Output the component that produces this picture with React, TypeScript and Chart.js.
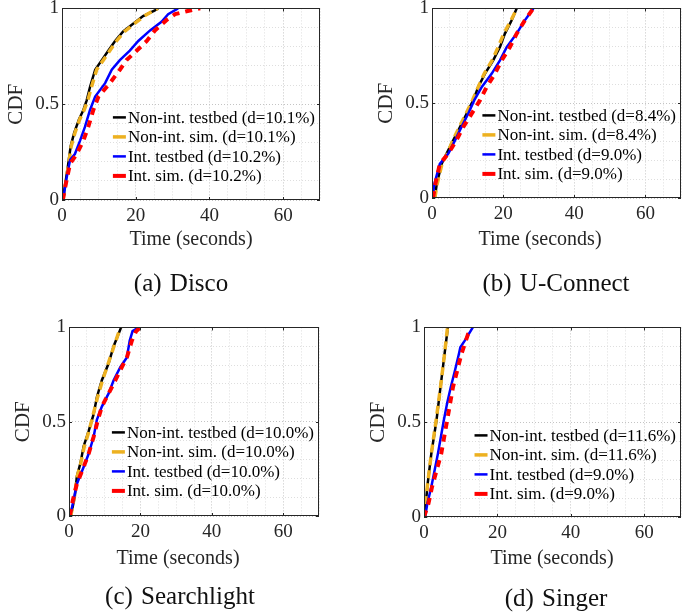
import React, { useEffect, useRef } from "react";
import { Chart, registerables } from "chart.js";

Chart.register(...registerables);

type Pt = [number, number];

// ---------- data ----------
const seriesNames = ["Non-int. testbed", "Non-int. sim.", "Int. testbed", "Int. sim."];
const seriesColors = ["#000000", "#EDB120", "#0000FF", "#FF0000"];
const xTickLabels = [0, 20, 40, 60];
const yTickLabels = [0, 0.5, 1];
const xAxisTitle = "Time (seconds)";
const yAxisTitle = "CDF";
const panelCaptions = ["(a) Disco", "(b) U-Connect", "(c) Searchlight", "(d) Singer"];

const discoDistances = ["10.1%", "10.1%", "10.2%", "10.2%"];
const uconnectDistances = ["8.4%", "8.4%", "9.0%", "9.0%"];
const searchlightDistances = ["10.0%", "10.0%", "10.0%", "10.0%"];
const singerDistances = ["11.6%", "11.6%", "9.0%", "9.0%"];

const discoNonIntTestbed: Pt[] = [[0.2, 0], [1.0, 0.1], [1.7, 0.19], [2.35, 0.28], [3.3, 0.35], [4.6, 0.42], [5.8, 0.47], [6.7, 0.52], [7.6, 0.59], [9.0, 0.68], [10.8, 0.73], [12.6, 0.78], [14.4, 0.83], [16.6, 0.88], [19.3, 0.92], [22.0, 0.96], [25.2, 0.99], [26.1, 1.0]];
const discoNonIntSim: Pt[] = [[0.3, 0], [1.1, 0.1], [1.8, 0.19], [2.5, 0.28], [3.5, 0.35], [4.8, 0.42], [6.0, 0.47], [7.0, 0.52], [8.0, 0.59], [9.4, 0.68], [11.2, 0.73], [13.0, 0.78], [14.8, 0.83], [17.0, 0.88], [19.6, 0.92], [22.3, 0.96], [25.0, 0.99], [26.0, 1.0]];
const discoIntTestbed: Pt[] = [[0.3, 0], [1.1, 0.1], [2.2, 0.21], [3.5, 0.24], [4.9, 0.31], [6.2, 0.38], [7.6, 0.47], [9.0, 0.54], [11.7, 0.61], [13.5, 0.68], [15.7, 0.73], [18.4, 0.78], [20.7, 0.83], [23.9, 0.885], [27.0, 0.93], [28.8, 0.97], [31.5, 1.0]];
const discoIntSim: Pt[] = [[0.2, 0], [1.2, 0.1], [2.2, 0.19], [4.0, 0.24], [5.8, 0.31], [7.1, 0.38], [8.5, 0.47], [9.9, 0.54], [13.0, 0.61], [15.7, 0.68], [17.5, 0.73], [20.3, 0.78], [23.0, 0.83], [25.2, 0.885], [28.4, 0.94], [30.7, 0.97], [33.8, 0.985], [37.5, 1.0]];

const uconnectNonIntTestbed: Pt[] = [[0.8, 0], [1.3, 0.07], [2.7, 0.18], [4.1, 0.235], [6.0, 0.305], [7.9, 0.375], [9.75, 0.446], [11.6, 0.516], [13.0, 0.586], [14.9, 0.656], [17.2, 0.726], [19.1, 0.796], [20.5, 0.867], [22.4, 0.937], [23.8, 1.0]];
const uconnectNonIntSim: Pt[] = [[0.8, 0], [1.4, 0.07], [2.8, 0.18], [4.3, 0.235], [5.9, 0.305], [7.7, 0.375], [9.6, 0.446], [11.4, 0.516], [13.0, 0.586], [14.7, 0.656], [16.9, 0.726], [18.6, 0.796], [20.2, 0.867], [22.2, 0.937], [23.9, 1.0]];
const uconnectIntTestbed: Pt[] = [[0.2, 0], [0.6, 0.07], [2.2, 0.18], [4.6, 0.235], [6.5, 0.305], [8.3, 0.375], [10.2, 0.446], [11.9, 0.516], [14.0, 0.586], [16.8, 0.656], [19.1, 0.726], [21.0, 0.796], [23.8, 0.867], [25.2, 0.91], [26.1, 0.937], [28.5, 1.0]];
const uconnectIntSim: Pt[] = [[0.3, 0], [0.9, 0.07], [2.2, 0.18], [4.6, 0.235], [6.9, 0.305], [8.8, 0.375], [11.2, 0.446], [13.5, 0.516], [15.4, 0.586], [17.7, 0.656], [19.6, 0.726], [21.9, 0.796], [23.8, 0.867], [26.1, 0.937], [28.5, 1.0]];

const searchlightNonIntTestbed: Pt[] = [[0.5, 0], [1.6, 0.1], [2.2, 0.21], [3.2, 0.28], [4.1, 0.37], [5.5, 0.45], [6.9, 0.54], [7.8, 0.63], [9.2, 0.72], [11.1, 0.81], [12.5, 0.9], [14.6, 1.0]];
const searchlightNonIntSim: Pt[] = [[0.5, 0], [1.5, 0.1], [2.3, 0.21], [3.3, 0.28], [4.3, 0.37], [5.6, 0.45], [6.8, 0.54], [8.0, 0.63], [9.4, 0.72], [11.0, 0.81], [12.6, 0.9], [14.4, 1.0]];
const searchlightIntTestbed: Pt[] = [[0.3, 0], [1.3, 0.085], [2.2, 0.17], [4.1, 0.26], [5.5, 0.33], [6.9, 0.42], [7.8, 0.51], [9.2, 0.58], [11.1, 0.65], [12.5, 0.72], [14.4, 0.79], [16.2, 0.84], [17.0, 0.93], [17.8, 0.98], [19.5, 1.0]];
const searchlightIntSim: Pt[] = [[0.2, 0], [1.1, 0.085], [2.2, 0.17], [4.1, 0.26], [5.5, 0.33], [6.9, 0.42], [8.1, 0.51], [9.2, 0.58], [11.1, 0.65], [13.0, 0.72], [14.8, 0.79], [16.2, 0.84], [17.6, 0.93], [18.8, 0.98], [20.0, 1.0]];

const singerNonIntTestbed: Pt[] = [[0.2, 0], [0.9, 0.16], [2.0, 0.335], [3.4, 0.51], [4.5, 0.686], [5.6, 0.86], [6.5, 1.0]];
const singerNonIntSim: Pt[] = [[0.1, 0], [0.9, 0.16], [2.0, 0.335], [3.3, 0.51], [4.5, 0.686], [5.6, 0.86], [6.4, 1.0]];
const singerIntTestbed: Pt[] = [[0.3, 0], [0.9, 0.07], [2.0, 0.16], [3.8, 0.335], [5.4, 0.51], [6.3, 0.6], [7.3, 0.686], [8.4, 0.77], [9.5, 0.86], [9.9, 0.895], [11.1, 0.93], [13.3, 1.0]];
const singerIntSim: Pt[] = [[0.0, 0], [1.2, 0.07], [2.2, 0.16], [4.7, 0.335], [6.3, 0.51], [7.9, 0.686], [10.2, 0.86], [12.0, 0.965], [12.9, 0.98]];

// ---------- layout / style (kept separate from data) ----------
const FONT = '"Liberation Serif", "Times New Roman", Times, serif';
const TEXT_COLOR = "#262626";
const Y_AXIS_W = 62;
const X_AXIS_H = 34;
const PAD_TOP = 14;
const PAD_RIGHT = 8;

const seriesStyles = [
  { width: 2.5, dash: [] as number[] },
  { width: 3.5, dash: [8, 5] },
  { width: 2.5, dash: [] as number[] },
  { width: 4, dash: [7, 6] },
];

const panels = [
  { series: [discoNonIntTestbed, discoNonIntSim, discoIntTestbed, discoIntSim], dist: discoDistances, caption: panelCaptions[0],
    areaLeft: 62, areaTop: 8, areaW: 258, areaH: 192, legendTop: 109, xTitle: [191, 238], cap: [181, 282] },
  { series: [uconnectNonIntTestbed, uconnectNonIntSim, uconnectIntTestbed, uconnectIntSim], dist: uconnectDistances, caption: panelCaptions[1],
    areaLeft: 432, areaTop: 8, areaW: 249, areaH: 190, legendTop: 107, xTitle: [540, 238], cap: [556, 282] },
  { series: [searchlightNonIntTestbed, searchlightNonIntSim, searchlightIntTestbed, searchlightIntSim], dist: searchlightDistances, caption: panelCaptions[2],
    areaLeft: 69, areaTop: 327, areaW: 250, areaH: 189, legendTop: 105, xTitle: [178, 557], cap: [180, 595] },
  { series: [singerNonIntTestbed, singerNonIntSim, singerIntTestbed, singerIntSim], dist: singerDistances, caption: panelCaptions[3],
    areaLeft: 424, areaTop: 327, areaW: 257, areaH: 190, legendTop: 108, xTitle: [552, 557], cap: [556, 597] },
];

const near = (a: number, b: number) => Math.abs(a - b) < 1e-6;

const frameAndLegendPlugin = {
  id: "frameAndLegend",
  afterDraw(chart: any, _args: any, opts: any) {
    const { ctx, chartArea } = chart;
    const { left, right, top, bottom } = chartArea;
    const xs = chart.scales.x;
    const ys = chart.scales.y;
    ctx.save();
    // box
    ctx.strokeStyle = TEXT_COLOR;
    ctx.lineWidth = 1;
    ctx.setLineDash([]);
    ctx.strokeRect(Math.round(left) + 0.5, Math.round(top) + 0.5, Math.round(right - left) - 1, Math.round(bottom - top) - 1);
    // inward major ticks
    ctx.beginPath();
    for (const v of xTickLabels) {
      const px = Math.round(xs.getPixelForValue(v)) + 0.5;
      ctx.moveTo(px, bottom);
      ctx.lineTo(px, bottom - 3);
      ctx.moveTo(px, top);
      ctx.lineTo(px, top + 3);
    }
    for (const v of yTickLabels) {
      const py = Math.round(ys.getPixelForValue(v)) + 0.5;
      ctx.moveTo(left, py);
      ctx.lineTo(left + 3, py);
      ctx.moveTo(right, py);
      ctx.lineTo(right - 3, py);
    }
    ctx.stroke();
    // legend
    const labels: string[] = opts.labels;
    ctx.font = `17px ${FONT}`;
    ctx.textBaseline = "middle";
    ctx.textAlign = "left";
    const maxW = Math.max(...labels.map((l: string) => ctx.measureText(l).width));
    const textLeft = right - 5 - maxW;
    labels.forEach((l: string, i: number) => {
      const y = top + opts.legendTop + i * 19.5;
      ctx.strokeStyle = seriesColors[i];
      ctx.lineWidth = seriesStyles[i].width;
      ctx.beginPath();
      ctx.moveTo(textLeft - 15, y);
      ctx.lineTo(textLeft - 2, y);
      ctx.stroke();
      ctx.fillStyle = "#000";
      ctx.fillText(l, textLeft, y + 1);
    });
    ctx.restore();
  },
};

function Panel({ p }: { p: (typeof panels)[number] }) {
  const ref = useRef<HTMLCanvasElement>(null);
  const w = Y_AXIS_W + p.areaW + PAD_RIGHT;
  const h = PAD_TOP + p.areaH + X_AXIS_H;
  useEffect(() => {
    const datasets = p.series.map((pts, i) => ({
      label: `${seriesNames[i]} (d=${p.dist[i]})`,
      data: pts.map(([x, y]) => ({ x, y })),
      borderColor: seriesColors[i],
      backgroundColor: seriesColors[i],
      borderWidth: seriesStyles[i].width,
      borderDash: seriesStyles[i].dash,
      borderCapStyle: "butt",
      pointRadius: 0,
      fill: false,
      tension: 0,
      order: 4 - i,
    }));
    const chart = new Chart(ref.current!, {
      type: "line",
      data: { datasets },
      options: {
        responsive: false,
        animation: false,
        layout: { padding: { top: PAD_TOP, right: PAD_RIGHT, left: 0, bottom: 0 } },
        plugins: {
          legend: { display: false },
          tooltip: { enabled: false },
          frameAndLegend: { labels: datasets.map((d) => d.label), legendTop: p.legendTop },
        } as any,
        scales: {
          x: {
            type: "linear",
            min: 0,
            max: 70,
            afterFit: (s: any) => { s.height = X_AXIS_H; },
            ticks: {
              stepSize: 5,
              autoSkip: false,
              maxRotation: 0,
              minRotation: 0,
              padding: 5,
              color: TEXT_COLOR,
              font: { family: FONT, size: 19 },
              callback: (v: any) => (xTickLabels.some((t) => near(t, Number(v))) ? String(v) : ""),
            },
            grid: {
              drawTicks: false,
              lineWidth: 1,
              color: (c: any) => (c.tick && xTickLabels.some((t) => near(t, c.tick.value)) ? "#c4c4c4" : "#dedede"),
            },
            border: { display: false, dash: [1, 2] },
          },
          y: {
            type: "linear",
            min: 0,
            max: 1,
            afterFit: (s: any) => { s.width = Y_AXIS_W; },
            title: { display: true, text: yAxisTitle, color: TEXT_COLOR, font: { family: FONT, size: 21 }, padding: { top: 4, bottom: 0 } },
            ticks: {
              stepSize: 0.1,
              autoSkip: false,
              padding: 3,
              color: TEXT_COLOR,
              font: { family: FONT, size: 19 },
              callback: (v: any) => {
                const t = yTickLabels.find((u) => near(u, Number(v)));
                return t === undefined ? "" : String(t);
              },
            },
            grid: {
              drawTicks: false,
              lineWidth: 1,
              color: (c: any) => (c.tick && yTickLabels.some((t) => near(t, c.tick.value)) ? "#c4c4c4" : "#dedede"),
            },
            border: { display: false, dash: [1, 2] },
          },
        },
      } as any,
      plugins: [frameAndLegendPlugin as any],
    });
    return () => chart.destroy();
  }, []);
  return (
    <>
      <canvas
        ref={ref}
        width={w}
        height={h}
        style={{ position: "absolute", left: p.areaLeft - Y_AXIS_W, top: p.areaTop - PAD_TOP, width: w, height: h }}
      />
      <div style={{ ...textStyle, fontSize: 20, left: p.xTitle[0], top: p.xTitle[1] }}>{xAxisTitle}</div>
      <div style={{ ...textStyle, fontSize: 25, wordSpacing: 2, color: "#111", left: p.cap[0], top: p.cap[1] }}>{p.caption}</div>
    </>
  );
}

const textStyle: React.CSSProperties = {
  position: "absolute",
  transform: "translate(-50%, -50%)",
  whiteSpace: "nowrap",
  fontFamily: FONT,
  lineHeight: 1,
  color: TEXT_COLOR,
};

export default function App() {
  return (
    <div style={{ position: "absolute", left: 0, top: 0, width: 694, height: 614, background: "#fff", overflow: "hidden" }}>
      {panels.map((p, i) => (
        <Panel key={i} p={p} />
      ))}
    </div>
  );
}
